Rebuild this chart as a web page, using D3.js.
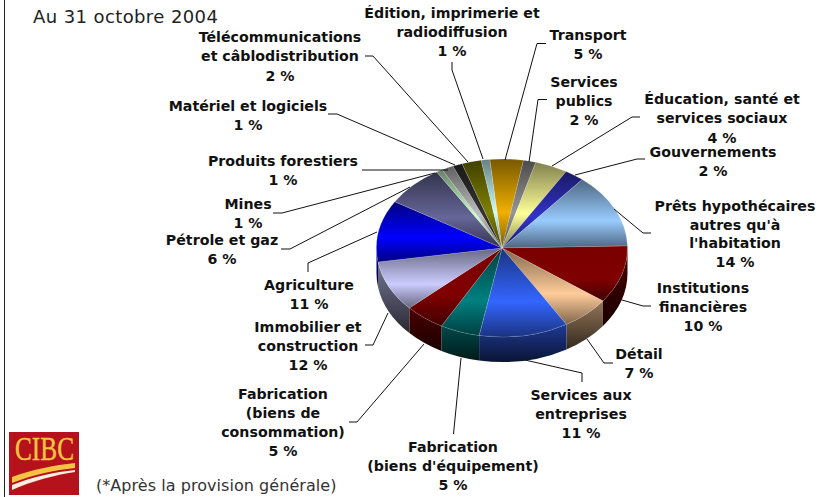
<!DOCTYPE html>
<html>
<head>
<meta charset="utf-8">
<style>
  html, body { margin: 0; padding: 0; background: #fff; }
  svg { display: block; font-family: "DejaVu Sans", sans-serif; }
  .label { font-size: 14.2px; font-weight: bold; fill: #111; text-anchor: middle; }
  .leader { fill: none; stroke: #111; stroke-width: 1; }
</style>
<script src="https://cdn.jsdelivr.net/npm/d3@7"></script>
</head>
<body>
<svg width="819" height="497"></svg>
<script>
// clockwise from the big orange slice
const categories = [
  ['Transport'],
  ['Services', 'publics'],
  ['Éducation, santé et', 'services sociaux'],
  ['Gouvernements'],
  ['Prêts hypothécaires', "autres qu'à", "l'habitation"],
  ['Institutions', 'financières'],
  ['Détail'],
  ['Services aux', 'entreprises'],
  ['Fabrication', "(biens d'équipement)"],
  ['Fabrication', '(biens de', 'consommation)'],
  ['Immobilier et', 'construction'],
  ['Agriculture'],
  ['Pétrole et gaz'],
  ['Mines'],
  ['Produits forestiers'],
  ['Matériel et logiciels'],
  ['Télécommunications', 'et câblodistribution'],
  ['Édition, imprimerie et', 'radiodiffusion']
];
// what the labels say
const percents = [5, 2, 4, 2, 14, 10, 7, 11, 5, 5, 12, 11, 6, 1, 1, 1, 2, 1];
// slice sizes as measured on the picture, they differ a bit from the rounded labels
const sliceShares = [4.3, 1.6, 4.2, 2.5, 13.6, 10.5, 6.3, 11.5, 5.1, 5.2, 9.3, 11.2, 7.6, 0.8, 1.5, 1.25, 2.5, 1.1];
const colors = ['#f0b000', '#969696', '#ffff99', '#3333cc', '#99ccff', '#800000', '#ffcc99', '#3366ff', '#008080',
  '#800000', '#ccccff', '#0000ff', '#666699', '#ccffcc', '#c0c0c0', '#333333', '#808000', '#ccffff'];

// label layout: centre x and text baselines, same order as categories
const labelX = [588, 584, 722, 713, 735, 703, 639, 581, 453, 283, 308, 309, 222, 248, 283, 248, 280, 452];
const labelY = [
  [40, 59], [87, 106, 125], [104, 123, 143], [157, 176], [211, 230, 248, 267], [293, 312, 331], [359, 378],
  [400, 419, 438], [452, 471, 490], [399, 418, 437, 456], [332, 351, 370], [290, 309], [245, 264], [209, 228],
  [166, 185], [111, 130], [42, 61, 81], [18, 37, 56]
];
const leaders = [
  [[546, 43.5], [537, 43.5], [505, 160]],
  [[547, 99.5], [538, 99.5], [529, 162]],
  [[640, 117], [632, 117], [552, 166]],
  [[645, 159], [637, 159], [575, 175]],
  [[651, 233], [643, 233], [614, 209]],
  [[651, 306], [643, 306], [622, 300]],
  [[613, 363], [604, 363], [587, 339]],
  [[582, 382], [582, 373], [525, 360]],
  [[453.5, 434], [461, 358]],
  [[349, 422], [357, 422], [424, 344]],
  [[365, 345], [373, 345], [388, 313]],
  [[308, 272], [308, 263], [377, 232]],
  [[281, 249], [290, 249], [410, 187]],
  [[273, 213], [282, 213], [435, 173]],
  [[362, 170], [448, 170]],
  [[328, 114], [337, 114], [455, 165]],
  [[365, 56], [373, 56], [468, 162]],
  [[452, 62], [452, 70], [483, 159]]
];

const width = 819, height = 497;
const cx = 502, cy = 248, rx = 125.5, ry = 89, depth = 25;
const squash = ry / rx;
const startAngle = -5.6 * Math.PI / 180;

const svg = d3.select('svg');
const defs = svg.append('defs');

const pie = d3.pie().sort(null).startAngle(startAngle).endAngle(startAngle + 2 * Math.PI);
const slices = pie(sliceShares);
const arc = d3.arc().innerRadius(0).outerRadius(rx);

const shade = (c, k) => {
  const o = d3.rgb(c);
  return d3.rgb(o.r * k, o.g * k, o.b * k).formatHex();
};

// reds stay bright up to the top, everything else is dark at the rim
const topShade = colors.map((c, i) => (c === '#800000' ? 0.95 : 0.5));

colors.forEach((c, i) => {
  const top = defs.append('linearGradient').attr('id', `top${i}`)
    .attr('x1', 0).attr('y1', 0).attr('x2', 0).attr('y2', 1);
  top.append('stop').attr('offset', 0).attr('stop-color', shade(c, topShade[i]));
  top.append('stop').attr('offset', 0.6).attr('stop-color', c);
  top.append('stop').attr('offset', 1).attr('stop-color', shade(c, 0.5));

  const side = defs.append('linearGradient').attr('id', `side${i}`)
    .attr('x1', 0).attr('y1', 0).attr('x2', 0).attr('y2', 1);
  side.append('stop').attr('offset', 0).attr('stop-color', shade(c, 0.58));
  side.append('stop').attr('offset', 1).attr('stop-color', shade(c, 0.2));
});

// left frame line
svg.append('line').attr('x1', 4.5).attr('x2', 4.5).attr('y1', 0).attr('y2', height)
  .attr('stroke', '#222').attr('stroke-width', 1);

svg.append('text').attr('x', 33).attr('y', 23)
  .attr('font-size', 18).attr('letter-spacing', 0.4).attr('fill', '#222')
  .text('Au 31 octobre 2004');

const chart = svg.append('g')
  .attr('transform', `translate(${cx}, ${cy}) scale(1, ${squash})`);

// side wall, only the part of a slice facing us (90deg to 270deg)
const wallPath = (d) => {
  const a0 = Math.max(d.startAngle, Math.PI / 2) - Math.PI / 2;
  const a1 = Math.min(d.endAngle, 3 * Math.PI / 2) - Math.PI / 2;
  if (a1 <= a0) return null;
  const h = depth / squash;
  const p = d3.path();
  p.arc(0, 0, rx, a0, a1);
  p.lineTo(rx * Math.cos(a1), rx * Math.sin(a1) + h);
  p.arc(0, h, rx, a1, a0, true);
  p.closePath();
  return p.toString();
};

chart.selectAll('.wall')
  .data(slices.filter((d) => wallPath(d)))
  .enter()
  .append('path')
  .attr('class', 'wall')
  .attr('d', wallPath)
  .attr('fill', (d) => `url(#side${d.index})`);

chart.selectAll('.slice')
  .data(slices)
  .enter()
  .append('path')
  .attr('class', 'slice')
  .attr('d', arc)
  .attr('fill', (d) => `url(#top${d.index})`)
  .attr('stroke', 'rgba(255,255,255,0.3)')
  .attr('stroke-width', 0.5)
  .attr('vector-effect', 'non-scaling-stroke');

const line = d3.line();
svg.selectAll('.leader')
  .data(leaders)
  .enter()
  .append('path')
  .attr('class', 'leader')
  .attr('d', line);

const labels = svg.selectAll('.label')
  .data(categories)
  .enter()
  .append('text')
  .attr('class', 'label');

labels.each(function (lines, i) {
  const rows = lines.concat(`${percents[i]} %`);
  d3.select(this).selectAll('tspan')
    .data(rows)
    .enter()
    .append('tspan')
    .attr('x', labelX[i])
    .attr('y', (r, j) => labelY[i][j])
    .text((r) => r);
});

// logo
const logo = svg.append('g');
logo.append('rect').attr('x', 9).attr('y', 432).attr('width', 70).attr('height', 63).attr('fill', '#b5121b');
logo.append('text').attr('x', 15).attr('y', 460)
  .attr('font-family', '"Liberation Serif", serif').attr('font-size', 33)
  .attr('textLength', 59).attr('lengthAdjust', 'spacingAndGlyphs')
  .attr('fill', '#f6c445').attr('stroke', '#f6c445').attr('stroke-width', 0.4).text('CIBC');
logo.append('path').attr('d', 'M12 477 C30 470 55 465 75 463 L75 468 C55 470 32 475 12 483 Z').attr('fill', '#f6c445');
logo.append('path').attr('d', 'M12 485 C32 477 55 472 75 470 L75 472 C55 475 32 481 12 490 Z').attr('fill', '#fbeee0');

svg.append('text').attr('x', 96).attr('y', 491)
  .attr('font-size', 16).attr('letter-spacing', 0.05).attr('fill', '#333')
  .text('(*Après la provision générale)');
</script>
</body>
</html>
